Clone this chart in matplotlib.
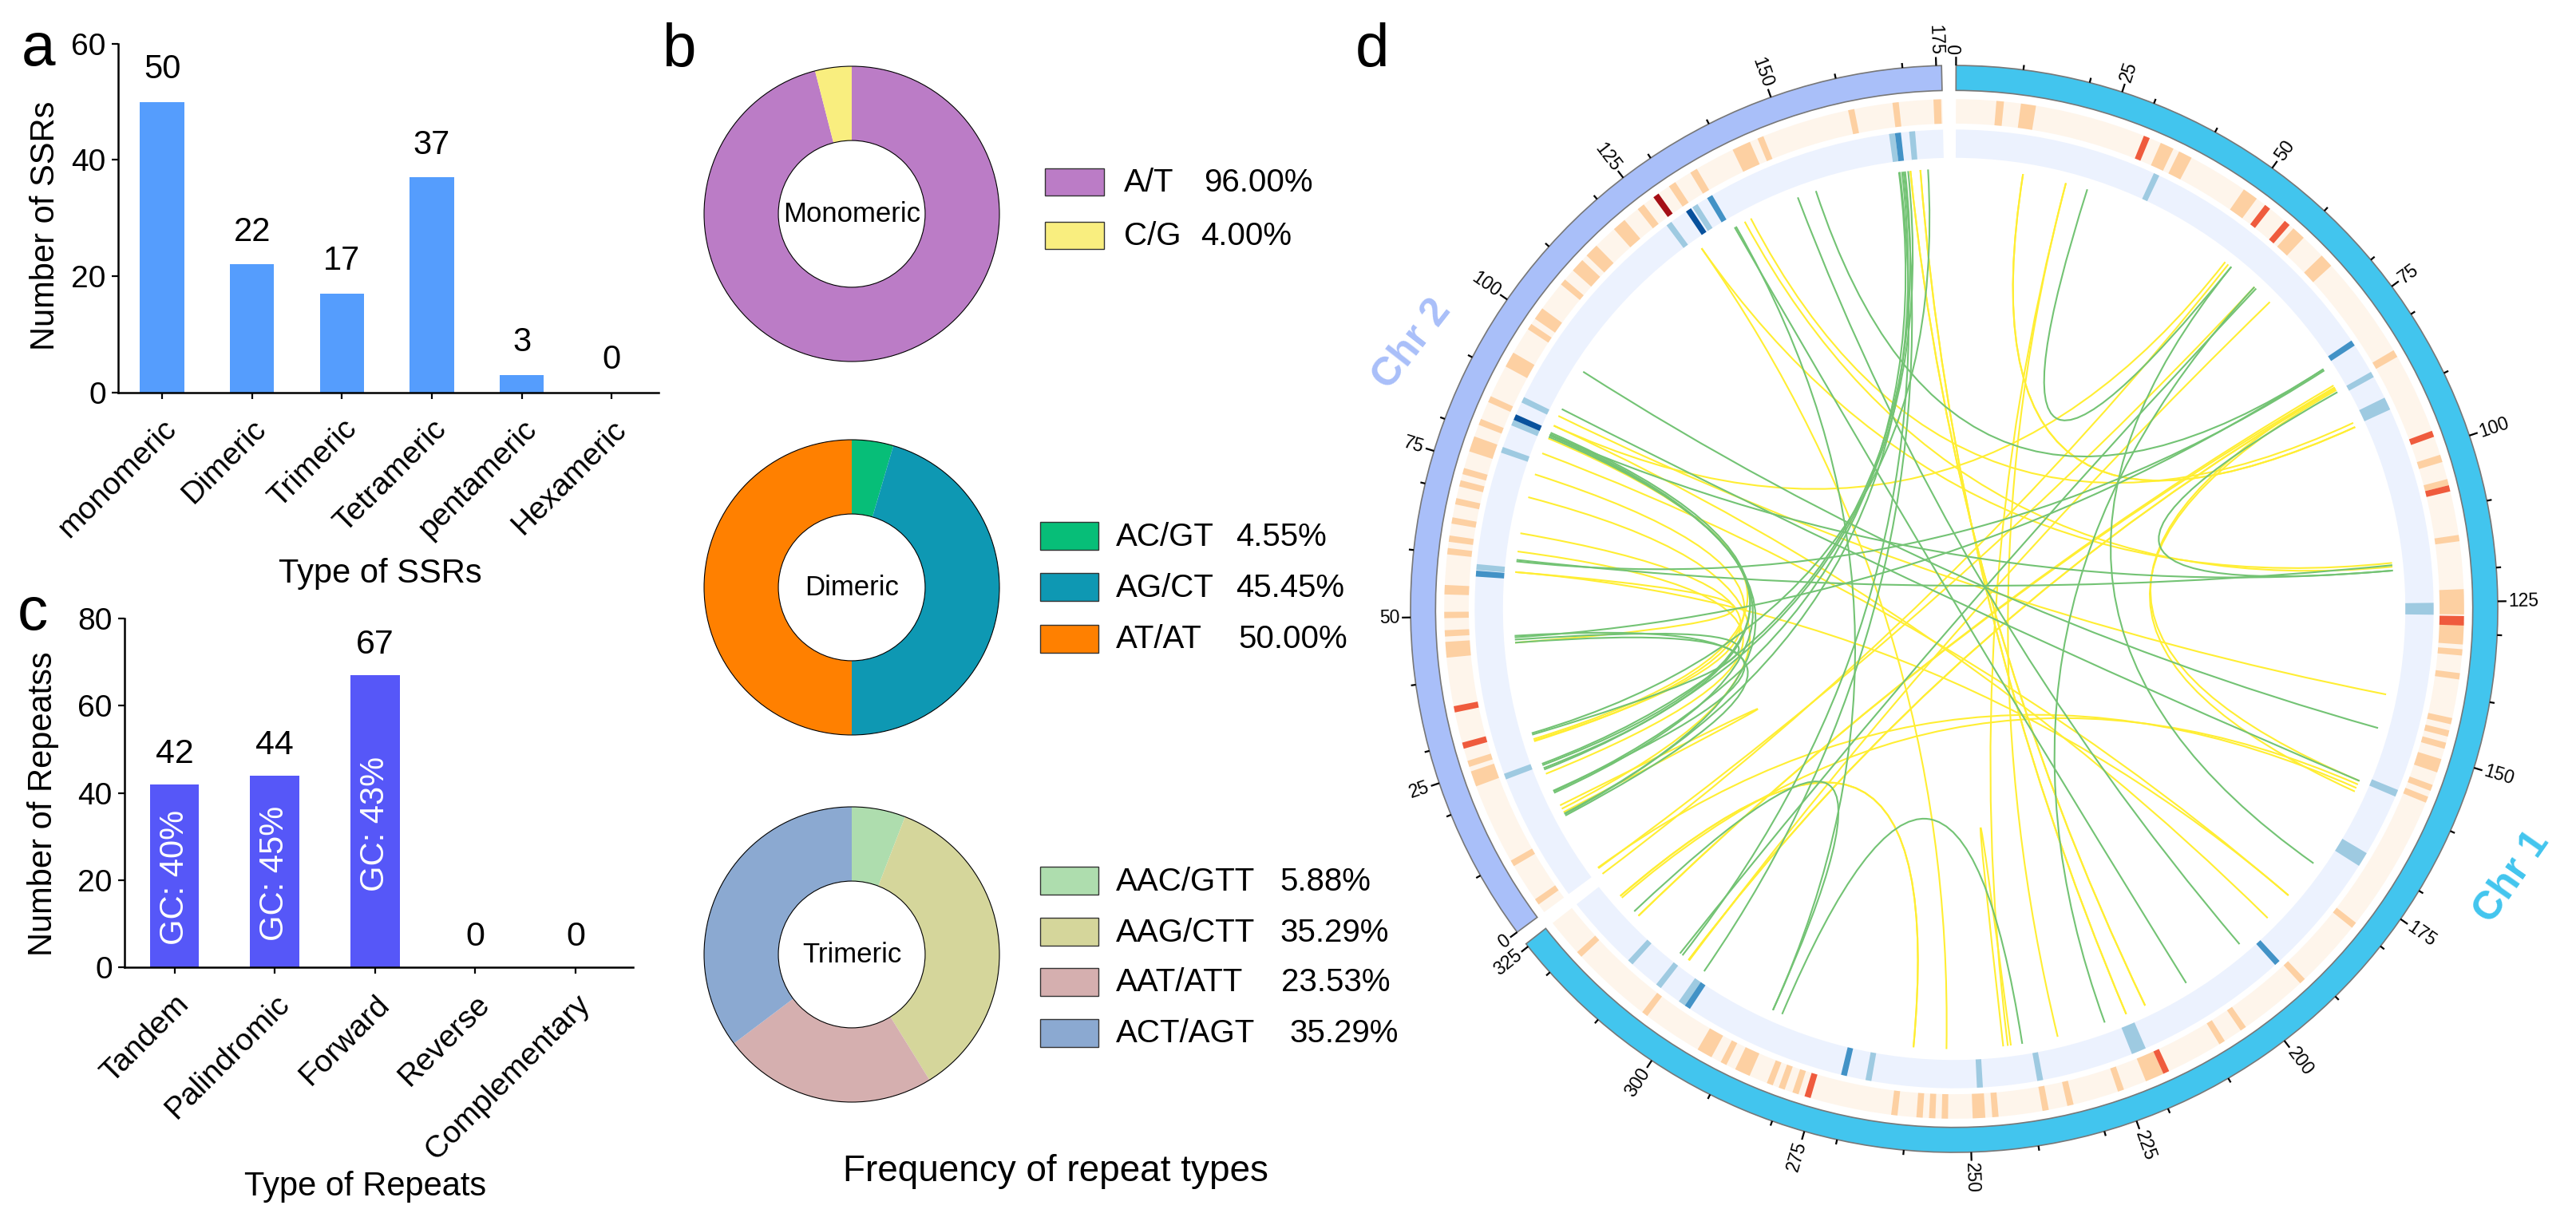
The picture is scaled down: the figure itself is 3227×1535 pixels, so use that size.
import numpy as np
import matplotlib
matplotlib.use('Agg')
import matplotlib.pyplot as plt
from matplotlib.patches import Wedge, Circle, Rectangle, PathPatch
from matplotlib.path import Path

plt.rcParams['font.family'] = ['Liberation Sans', 'DejaVu Sans']

W, H = 3227, 1535

# -------------------
#    Data
# -------------------
ssr_types = ['monomeric', 'Dimeric', 'Trimeric', 'Tetrameric', 'pentameric', 'Hexameric']
ssr_counts = [50, 22, 17, 37, 3, 0]

repeat_types = ['Tandem', 'Palindromic', 'Forward', 'Reverse', 'Complementary']
repeat_counts = [42, 44, 67, 0, 0]
repeat_gc = ['GC: 40%', 'GC: 45%', 'GC: 43%']

mono_names = ['A/T', 'C/G']
mono_vals = [96.00, 4.00]
di_names = ['AC/GT', 'AG/CT', 'AT/AT']
di_vals = [4.55, 45.45, 50.00]
tri_names = ['AAC/GTT', 'AAG/CTT', 'AAT/ATT', 'ACT/AGT']
tri_vals = [5.88, 35.29, 23.53, 35.29]

# heat track: (position, width, level) on each chromosome
chr1_heat_pos = [7, 11.5, 30.9, 34.4, 37.6, 49.6, 53, 57, 59.4, 65.6, 83.9, 97.9, 102, 105.9, 106.9, 114.9,
                 125, 128, 130, 133, 136.8, 144, 146, 148, 151.3, 155, 157, 180, 192, 204, 208, 218, 220,
                 225.7, 234, 238, 246, 248.6, 254, 256, 258, 262, 276, 278, 280.3, 282.3, 287, 290.3, 293.7,
                 305, 319]
chr1_heat_wid = [1.2, 2.4, 1, 2.2, 2.2, 2.5, 1, 1, 2.2, 2.2, 1.2, 1, 1.2, 1, 1, 1,
                 4, 1.5, 3.5, 1, 1, 1, 1, 1, 2.2, 1, 1, 1, 1, 1, 1, 1, 3,
                 1, 1, 1, 1, 2, 1, 1, 1, 1, 1, 1, 1, 1, 2.5, 1, 2.5,
                 1, 1]
chr1_heat_lvl = [0, 0, 1, 0, 0, 0, 1, 1, 0, 0, 0, 1, 0, 0, 1, 0,
                 0, 1, 0, 0, 0, 0, 0, 0, 0, 0, 0, 0, 0, 0, 0, 1, 0,
                 0, 0, 0, 0, 0, 0, 0, 0, 0, 1, 0, 0, 0, 0, 0, 0,
                 0, 0]
chr2_heat_pos = [2, 9.2, 23.9, 26.4, 29.4, 35.3, 44.8, 47.4, 50.3, 54.3, 60.4, 62.4, 65.3, 68.4, 71.3, 73.3,
                 77.8, 81.5, 85.4, 92.4, 98.5, 101, 107.3, 110.8, 114, 120, 124.4, 127.4, 130.5, 134.5, 143,
                 146.3, 161.3, 168.4, 175]
chr2_heat_wid = [1, 1, 2.5, 1, 1, 1, 2.5, 1, 1, 1.5, 1, 1, 1, 1, 1, 1,
                 2.5, 1, 1, 2.5, 1, 2, 1, 2.2, 2.2, 2.2, 1.2, 1, 1.2, 1.2, 3,
                 1, 1, 1, 1.2]
chr2_heat_lvl = [0, 0, 0, 0, 1, 1, 0, 0, 0, 0, 0, 0, 0, 0, 0, 0,
                 0, 0, 0, 0, 0, 0, 0, 0, 0, 0, 0, 2, 0, 0, 0,
                 0, 0, 0, 0]

# blue track
chr1_blue_pos = [34.8, 78.8, 85, 90.5, 126.1, 157.9, 170.4, 193, 220.7, 238, 248.2, 267, 271.2, 300, 301, 306, 312.2]
chr1_blue_wid = [1, 1, 1, 2.2, 2, 1.2, 2.5, 1, 2.5, 1, 1, 1, 1, 1, 1.5, 1, 1]
chr1_blue_lvl = [0, 1, 0, 0, 0, 0, 0, 1, 0, 0, 0, 0, 1, 1, 0, 0, 0]
chr2_blue_pos = [22.5, 57.2, 58.3, 78.5, 83.4, 84.4, 87.6, 126.4, 130.4, 131.7, 134.6, 167.2, 168.2, 170.6]
chr2_blue_wid = [1, 1, 1, 1, 1, 1, 1, 1, 1, 1, 1, 1, 1, 1]
chr2_blue_lvl = [0, 1, 0, 0, 0, 2, 0, 0, 2, 0, 1, 0, 1, 0]

# links, both ends as clockwise degrees from the top of the circle
green_a = [352.8, 353.2, 353.6, 354.0, 356.6, 352.9, 353.4, 339.2, 341.7, 330.1, 302.6, 297, 293.4, 293.2, 293.6, 293.0,
           293.3, 276.2, 266.5, 265.6, 266.0, 17.6, 43, 43.3, 39, 85, 84.3, 203, 226.6, 204.3, 57]
green_b = [245.5, 242.2, 249.4, 248.6, 253.6, 218.1, 214.6, 139.6, 57, 148.2, 105.7, 113, 242.3, 245.3, 249.2, 248.8,
           85, 57.2, 242, 245.6, 253.4, 39, 160, 218.5, 125.3, 60.5, 276.4, 171.1, 204.3, 330.3, 266.3]
yellow_a = [355.6, 354.3, 332.5, 331.6, 325, 296, 294.6, 292.8, 290.7, 287.8, 284.7, 279.9, 277.5, 274.8, 242.5,
            233.9, 229.3, 225.8, 217.1, 185.3, 181, 172.6, 166.4, 157, 154.3, 130.6, 114, 113.5, 65.6,
            59.5, 60, 45.8, 38, 38.5, 14.7, 9, 59.8, 60.2]
yellow_b = [157, 154.3, 65, 84.5, 84, 101.2, 134.6, 252.8, 130.6, 252.5, 243, 252.6, 248, 265.6, 243.5,
            43, 185.3, 59.8, 60, 229.3, 325, 173.6, 14.7, 355.6, 354.3, 274.8, 234, 229, 9,
            225.8, 217.1, 217, 294.6, 233, 173, 65.6, 113, 114.5]

heat_colors = ['#FDD0A2', '#EF5B3D', '#A50F15']
blue_colors = ['#9ECAE1', '#4292C6', '#08519C']

# -------------------
#    Figure helpers
# -------------------
fig = plt.figure(figsize=(W / 100, H / 100), dpi=100)


def px_axes(left, top, right, bottom):
    return fig.add_axes([left / W, 1 - bottom / H, (right - left) / W, (bottom - top) / H])


def bar_panel(ax, names, vals, xlim, ymax, yticks, width):
    x = np.arange(len(names))
    ax.bar(x, vals, width=width, color=bar_color)
    ax.set_xlim(*xlim)
    ax.set_ylim(0, ymax)
    ax.set_yticks(yticks)
    ax.set_xticks(x)
    ax.set_xticklabels(names, rotation=45, ha='right', va='top', rotation_mode='anchor', fontsize=28)
    ax.tick_params(axis='both', length=6, width=1.6, labelsize=28, pad=5)
    ax.tick_params(axis='x', pad=14)
    for s in ['top', 'right']:
        ax.spines[s].set_visible(False)
    for s in ['left', 'bottom']:
        ax.spines[s].set_linewidth(1.8)
    ax.patch.set_alpha(0)


# -------------------
#    Panel a
# -------------------
bar_color = '#559DFD'
ax_a = px_axes(148, 54.7, 825, 491.5)
bar_panel(ax_a, ssr_types, ssr_counts, (-0.488, 5.52), 60, [0, 20, 40, 60], 0.49)
for i, v in enumerate(ssr_counts):
    ax_a.text(i, v + 2.8, str(v), ha='center', va='bottom', fontsize=30)

# -------------------
#    Panel c
# -------------------
bar_color = '#5657F8'
ax_c = px_axes(156, 775, 793, 1212)
bar_panel(ax_c, repeat_types, repeat_counts, (-0.498, 4.573), 80, [0, 20, 40, 60, 80], 0.49)
for i, v in enumerate(repeat_counts):
    ax_c.text(i, v + 3.3, str(v), ha='center', va='bottom', fontsize=31)
for i, s in enumerate(repeat_gc):
    ax_c.text(i, repeat_counts[i] * 0.49, s, rotation=90, color='white', ha='center', va='center', fontsize=30)


# -------------------
#    Panel b
# -------------------
def donut(cy, vals, colors, label):
    r = 185
    ax = px_axes(1067 - r * 1.03, cy - r * 1.03, 1067 + r * 1.03, cy + r * 1.03)
    ax.pie(vals, colors=colors, startangle=90, counterclock=False, radius=1,
           wedgeprops=dict(width=0.503, linewidth=0))
    ax.add_patch(Circle((0, 0), 1, fill=False, ec='black', lw=0.8))
    ax.add_patch(Circle((0, 0), 0.497, fill=False, ec='black', lw=0.8))
    ax.set_xlim(-1.03, 1.03)
    ax.set_ylim(-1.03, 1.03)
    ax.text(0, 0, label, ha='center', va='center', fontsize=25)


mono_colors = ['#BB7CC6', '#F9EE7F']
di_colors = ['#07BE78', '#0E98B3', '#FF8000']
tri_colors = ['#AEDDAE', '#D5D69B', '#D5AFAF', '#8BA9D1']
donut(268, mono_vals, mono_colors, 'Monomeric')
donut(736, di_vals, di_colors, 'Dimeric')
donut(1196, tri_vals, tri_colors, 'Trimeric')

# -------------------
#    Panel d
# -------------------
cx, cy, rad = 2448, 763, 681
ext = 1.1
ax_d = px_axes(cx - rad * ext, cy - rad * ext, cx + rad * ext, cy + rad * ext)
ax_d.set_xlim(-ext, ext)
ax_d.set_ylim(-ext, ext)
ax_d.axis('off')

deg_per_unit = 0.712
chr1_start, chr1_len = 0.2, 325.5
chr2_start, chr2_len = 233.5, 175.8


def ang(start, pos):
    return start + deg_per_unit * np.asarray(pos, dtype=float)


def xy(a, r):
    t = np.deg2rad(a)
    return r * np.sin(t), r * np.cos(t)


def arc(a0, a1, r_out, r_in, color, z=2, **kw):
    ax_d.add_patch(Wedge((0, 0), r_out, 90 - a1, 90 - a0, width=r_out - r_in, fc=color, ec=kw.get('ec', 'none'),
                         lw=kw.get('lw', 0), zorder=z))


def chromosome(start, length, color, heat, blue):
    a0, a1 = ang(start, 0), ang(start, length)
    arc(a0, a1, 1.0, 0.954, color, ec='#777777', lw=1.2)
    arc(a0, a1, 0.938, 0.893, '#FEF5EB')
    arc(a0, a1, 0.882, 0.830, '#ECF2FE')
    for (pos, wid, lvl), r_out, r_in, cols in ((heat, 0.938, 0.893, heat_colors), (blue, 0.882, 0.830, blue_colors)):
        for p, w, l in sorted(zip(pos, wid, lvl), key=lambda q: q[2]):
            arc(ang(start, p - w / 2), ang(start, p + w / 2), r_out, r_in, cols[l], z=3)
    # ticks every 10, labelled ticks every 25
    ticks = sorted(set(list(range(0, int(length) + 1, 10)) + list(range(0, int(length) + 1, 25))))
    for t in ticks:
        a = ang(start, t)
        major = t % 25 == 0
        x0, y0 = xy(a, 1.0)
        x1, y1 = xy(a, 1.016 if major else 1.009)
        ax_d.plot([x0, x1], [y0, y1], color='black', lw=1.6, solid_capstyle='butt', zorder=4)
        if major:
            tx, ty = xy(a, 1.02)
            right = (a % 360) < 180
            ax_d.text(tx, ty, str(t), fontsize=16.5, va='center', ha='left' if right else 'right',
                      rotation=90 - a if right else 270 - a, rotation_mode='anchor', clip_on=False)


chromosome(chr1_start, chr1_len, '#42C5EE', (chr1_heat_pos, chr1_heat_wid, chr1_heat_lvl),
           (chr1_blue_pos, chr1_blue_wid, chr1_blue_lvl))
chromosome(chr2_start, chr2_len, '#A9BFF9', (chr2_heat_pos, chr2_heat_wid, chr2_heat_lvl),
           (chr2_blue_pos, chr2_blue_wid, chr2_blue_lvl))


def link(a, b, color):
    # quadratic curve pulled towards the centre of the circle
    p = Path([xy(a, 0.81), (0, 0), xy(b, 0.81)], [Path.MOVETO, Path.CURVE3, Path.CURVE3])
    ax_d.add_patch(PathPatch(p, fc='none', ec=color, lw=1.5, zorder=5))


for a, b in zip(yellow_a, yellow_b):
    link(a, b, '#FFEE33')
for a, b in zip(green_a, green_b):
    link(a, b, '#73C374')

# -------------------
#    Overlay text in pixel coords
# -------------------
ov = fig.add_axes([0, 0, 1, 1])
ov.set_xlim(0, W)
ov.set_ylim(H, 0)
ov.axis('off')

for s, x, y in (('a', 27, 82), ('b', 829, 83), ('c', 22, 789), ('d', 1698, 83)):
    ov.text(x, y, s, fontsize=55, ha='left', va='baseline')

ov.text(57, 283, 'Number of SSRs', rotation=90, ha='center', va='center', fontsize=30)
ov.text(476, 719, 'Type of SSRs', ha='center', va='center', fontsize=30)
ov.text(54, 1007, 'Number of Repeatss', rotation=90, ha='center', va='center', fontsize=30)
ov.text(458, 1487, 'Type of Repeats', ha='center', va='center', fontsize=30)
ov.text(1322, 1468, 'Frequency of repeat types', ha='center', va='center', fontsize=33)


def legend(x0, x1, tx, ys, h, colors, names, vals, vx):
    for y, c, n, v, vxx in zip(ys, colors, names, vals, vx):
        ov.add_patch(Rectangle((x0, y), x1 - x0, h, fc=c, ec='#333333', lw=1))
        ov.text(tx, y + h / 2 + 1, n, ha='left', va='center', fontsize=29)
        ov.text(vxx, y + h / 2 + 1, f'{v:.2f}%', ha='left', va='center', fontsize=29)


legend(1309, 1383, 1408, [211, 278], 34, mono_colors, mono_names, mono_vals, [1508, 1504])
legend(1303, 1376, 1398, [654, 718, 783], 35, di_colors, di_names, di_vals, [1548, 1548, 1551])
legend(1303, 1376, 1398, [1086, 1150, 1213, 1277], 35, tri_colors, tri_names, tri_vals, [1603, 1603, 1605, 1615])

ov.text(1769, 432, 'Chr 2', color='#A9BFF9', rotation=52, ha='center', va='center', fontsize=36, fontweight='bold')
ov.text(3147, 1099, 'Chr 1', color='#42C5EE', rotation=55, ha='center', va='center', fontsize=36, fontweight='bold')

plt.savefig('out.png', dpi=100)
